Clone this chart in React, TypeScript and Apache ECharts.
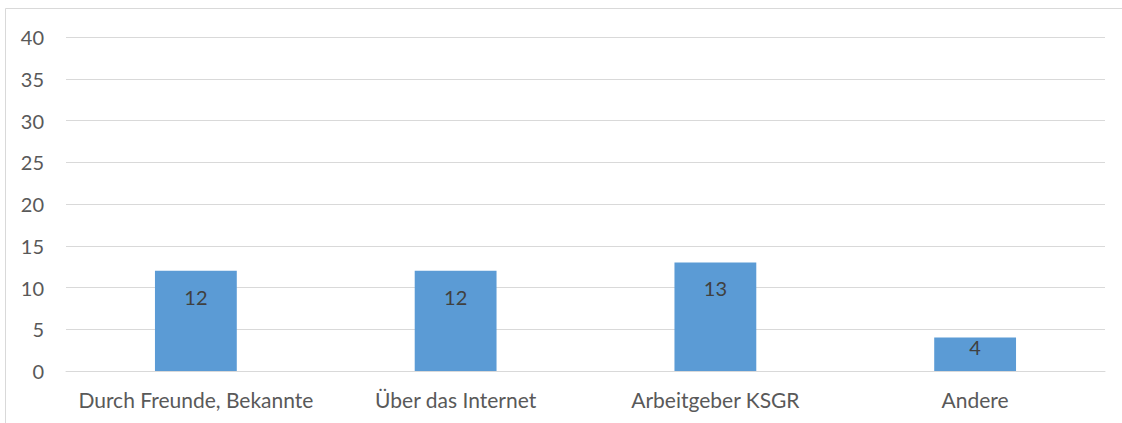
import React, { useEffect, useRef } from "react";
import * as echarts from "echarts";

const categories = ["Durch Freunde, Bekannte", "Über das Internet", "Arbeitgeber KSGR", "Andere"];
const values = [12, 12, 13, 4];
const yMin = 0;
const yMax = 40;
const yInterval = 5;

const FONT = "Lato, 'Open Sans', sans-serif";

export default function App() {
  const ref = useRef<HTMLDivElement>(null);
  useEffect(() => {
    document.body.style.margin = "0";
    if (!ref.current) return;
    const chart = echarts.init(ref.current, null, { renderer: "svg" });
    chart.setOption({
      animation: false,
      backgroundColor: "#ffffff",
      textStyle: { fontFamily: FONT },
      graphic: [
        {
          type: "rect",
          shape: { x: 5.5, y: 8.5, width: 1140, height: 440 },
          style: { fill: "none", stroke: "#d9d9d9", lineWidth: 1 },
          silent: true,
        },
      ],
      grid: { left: 66, right: 17, top: 37, bottom: 52, containLabel: false },
      xAxis: {
        type: "category",
        data: categories,
        axisLine: { show: true, lineStyle: { color: "#d9d9d9", width: 1 } },
        axisTick: { show: false },
        axisLabel: { color: "#595959", fontSize: 21, fontFamily: FONT, margin: 18, interval: 0 },
      },
      yAxis: {
        type: "value",
        min: yMin,
        max: yMax,
        interval: yInterval,
        axisLine: { show: false },
        axisTick: { show: false },
        splitLine: { lineStyle: { color: "#d9d9d9", width: 1 } },
        axisLabel: { color: "#595959", fontSize: 20, fontFamily: FONT, margin: 22 },
      },
      series: [
        {
          type: "bar",
          barWidth: "31.5%",
          itemStyle: { color: "#5b9bd5" },
          label: {
            show: true,
            position: "insideTop",
            color: "#404040",
            fontSize: 20,
            fontFamily: FONT,
          },
          data: values.map((v) => ({ value: v, label: { distance: v < 5 ? -1 : 16 } })),
        },
      ],
    });
    return () => chart.dispose();
  }, []);
  return <div ref={ref} style={{ width: 1122, height: 423 }} />;
}
